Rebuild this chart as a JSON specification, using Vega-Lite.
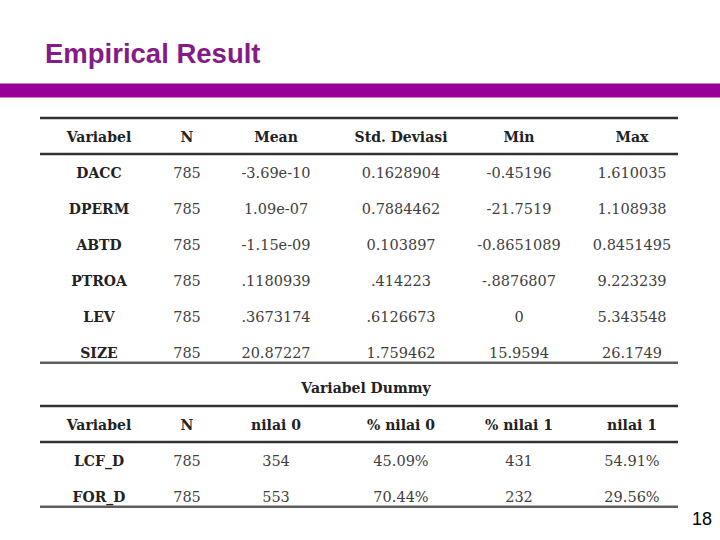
{
  "$schema": "https://vega.github.io/schema/vega-lite/v6.json",
  "width": 720,
  "height": 540,
  "padding": 0,
  "autosize": {"type": "none"},
  "background": "white",
  "config": {"view": {"stroke": null}, "axis": {"disable": true}},
  "data": {"values": [
    {"k": "title", "r": "title", "c": 0, "t": "Empirical Result"},
    {"k": "bar", "r": "bar", "c": 0, "t": ""},
    {"k": "rule", "r": "bar", "c": 0, "t": ""},
    {"k": "rule", "r": "hdr1", "c": 0, "t": ""},
    {"k": "close", "r": "SIZE", "c": 0, "t": ""},
    {"k": "rule", "r": "dummy", "c": 0, "t": ""},
    {"k": "rule", "r": "hdr2", "c": 0, "t": ""},
    {"k": "close", "r": "FOR_D", "c": 0, "t": ""},

    {"k": "hdr", "r": "hdr1", "c": 1, "t": "Variabel"},
    {"k": "hdr", "r": "hdr1", "c": 2, "t": "N"},
    {"k": "hdr", "r": "hdr1", "c": 3, "t": "Mean"},
    {"k": "hdr", "r": "hdr1", "c": 4, "t": "Std. Deviasi"},
    {"k": "hdr", "r": "hdr1", "c": 5, "t": "Min"},
    {"k": "hdr", "r": "hdr1", "c": 6, "t": "Max"},

    {"k": "lbl", "r": "DACC", "c": 1, "t": "DACC"},
    {"k": "val", "r": "DACC", "c": 2, "t": "785"},
    {"k": "val", "r": "DACC", "c": 3, "t": "-3.69e-10"},
    {"k": "val", "r": "DACC", "c": 4, "t": "0.1628904"},
    {"k": "val", "r": "DACC", "c": 5, "t": "-0.45196"},
    {"k": "val", "r": "DACC", "c": 6, "t": "1.610035"},

    {"k": "lbl", "r": "DPERM", "c": 1, "t": "DPERM"},
    {"k": "val", "r": "DPERM", "c": 2, "t": "785"},
    {"k": "val", "r": "DPERM", "c": 3, "t": "1.09e-07"},
    {"k": "val", "r": "DPERM", "c": 4, "t": "0.7884462"},
    {"k": "val", "r": "DPERM", "c": 5, "t": "-21.7519"},
    {"k": "val", "r": "DPERM", "c": 6, "t": "1.108938"},

    {"k": "lbl", "r": "ABTD", "c": 1, "t": "ABTD"},
    {"k": "val", "r": "ABTD", "c": 2, "t": "785"},
    {"k": "val", "r": "ABTD", "c": 3, "t": "-1.15e-09"},
    {"k": "val", "r": "ABTD", "c": 4, "t": "0.103897"},
    {"k": "val", "r": "ABTD", "c": 5, "t": "-0.8651089"},
    {"k": "val", "r": "ABTD", "c": 6, "t": "0.8451495"},

    {"k": "lbl", "r": "PTROA", "c": 1, "t": "PTROA"},
    {"k": "val", "r": "PTROA", "c": 2, "t": "785"},
    {"k": "val", "r": "PTROA", "c": 3, "t": ".1180939"},
    {"k": "val", "r": "PTROA", "c": 4, "t": ".414223"},
    {"k": "val", "r": "PTROA", "c": 5, "t": "-.8876807"},
    {"k": "val", "r": "PTROA", "c": 6, "t": "9.223239"},

    {"k": "lbl", "r": "LEV", "c": 1, "t": "LEV"},
    {"k": "val", "r": "LEV", "c": 2, "t": "785"},
    {"k": "val", "r": "LEV", "c": 3, "t": ".3673174"},
    {"k": "val", "r": "LEV", "c": 4, "t": ".6126673"},
    {"k": "val", "r": "LEV", "c": 5, "t": "0"},
    {"k": "val", "r": "LEV", "c": 6, "t": "5.343548"},

    {"k": "lbl", "r": "SIZE", "c": 1, "t": "SIZE"},
    {"k": "val", "r": "SIZE", "c": 2, "t": "785"},
    {"k": "val", "r": "SIZE", "c": 3, "t": "20.87227"},
    {"k": "val", "r": "SIZE", "c": 4, "t": "1.759462"},
    {"k": "val", "r": "SIZE", "c": 5, "t": "15.9594"},
    {"k": "val", "r": "SIZE", "c": 6, "t": "26.1749"},

    {"k": "sec", "r": "dummy", "c": 0, "t": "Variabel Dummy"},

    {"k": "hdr", "r": "hdr2", "c": 1, "t": "Variabel"},
    {"k": "hdr", "r": "hdr2", "c": 2, "t": "N"},
    {"k": "hdr", "r": "hdr2", "c": 3, "t": "nilai 0"},
    {"k": "hdr", "r": "hdr2", "c": 4, "t": "% nilai 0"},
    {"k": "hdr", "r": "hdr2", "c": 5, "t": "% nilai 1"},
    {"k": "hdr", "r": "hdr2", "c": 6, "t": "nilai 1"},

    {"k": "lbl", "r": "LCF_D", "c": 1, "t": "LCF_D"},
    {"k": "val", "r": "LCF_D", "c": 2, "t": "785"},
    {"k": "val", "r": "LCF_D", "c": 3, "t": "354"},
    {"k": "val", "r": "LCF_D", "c": 4, "t": "45.09%"},
    {"k": "val", "r": "LCF_D", "c": 5, "t": "431"},
    {"k": "val", "r": "LCF_D", "c": 6, "t": "54.91%"},

    {"k": "lbl", "r": "FOR_D", "c": 1, "t": "FOR_D"},
    {"k": "val", "r": "FOR_D", "c": 2, "t": "785"},
    {"k": "val", "r": "FOR_D", "c": 3, "t": "553"},
    {"k": "val", "r": "FOR_D", "c": 4, "t": "70.44%"},
    {"k": "val", "r": "FOR_D", "c": 5, "t": "232"},
    {"k": "val", "r": "FOR_D", "c": 6, "t": "29.56%"},

    {"k": "page", "r": "footer", "c": 8, "t": "18"}
  ]},
  "layer": [
    {
      "transform": [{"filter": "datum.k === 'title'"}],
      "mark": {"type": "text", "font": "Liberation Sans", "fontWeight": "bold", "fontSize": 27.5, "color": "#861A86", "align": "left", "baseline": "alphabetic", "dx": 5, "dy": -1},
      "encoding": {
        "x": {"field": "c", "type": "quantitative", "scale": {"type": "linear", "domain": [0, 1, 2, 3, 4, 5, 6, 7, 8], "range": [40, 99, 187, 276, 401, 519, 632, 678, 712], "nice": false, "zero": false}},
        "y": {"field": "r", "type": "nominal", "scale": {"type": "band", "domain": ["title", "bar", "hdr1", "DACC", "DPERM", "ABTD", "PTROA", "LEV", "SIZE", "dummy", "hdr2", "LCF_D", "FOR_D", "footer"], "range": [46, 550], "paddingInner": 0, "paddingOuter": 0}},
        "text": {"field": "t"}
      }
    },
    {
      "transform": [{"filter": "datum.k === 'bar'"}],
      "mark": {"type": "rule", "color": "#990099", "strokeWidth": 14},
      "encoding": {
        "y": {"field": "r", "type": "nominal", "bandPosition": 0.236}
      }
    },
    {
      "transform": [{"filter": "datum.k === 'rule'"}],
      "mark": {"type": "rule", "color": "#333333", "strokeWidth": 2.5},
      "encoding": {
        "y": {"field": "r", "type": "nominal", "bandPosition": 1},
        "x": {"datum": 0},
        "x2": {"datum": 7}
      }
    },
    {
      "transform": [{"filter": "datum.k === 'close'"}],
      "mark": {"type": "rule", "color": "#5e5e5e", "strokeWidth": 2.5},
      "encoding": {
        "y": {"field": "r", "type": "nominal", "bandPosition": 0.8},
        "x": {"datum": 0},
        "x2": {"datum": 7}
      }
    },
    {
      "transform": [{"filter": "datum.k === 'hdr' || datum.k === 'lbl'"}],
      "mark": {"type": "text", "font": "DejaVu Serif", "fontWeight": "bold", "fontSize": 14, "color": "#222222", "align": "center", "baseline": "middle", "dy": 2},
      "encoding": {
        "x": {"field": "c", "type": "quantitative"},
        "y": {"field": "r", "type": "nominal"},
        "text": {"field": "t"}
      }
    },
    {
      "transform": [{"filter": "datum.k === 'val'"}],
      "mark": {"type": "text", "font": "DejaVu Serif", "fontSize": 14.5, "color": "#404040", "align": "center", "baseline": "middle", "dy": 2},
      "encoding": {
        "x": {"field": "c", "type": "quantitative"},
        "y": {"field": "r", "type": "nominal"},
        "text": {"field": "t"}
      }
    },
    {
      "transform": [{"filter": "datum.k === 'sec'"}],
      "mark": {"type": "text", "font": "DejaVu Serif", "fontWeight": "bold", "fontSize": 14, "color": "#222222", "align": "center", "baseline": "middle", "dy": 1},
      "encoding": {
        "x": {"datum": 3.72},
        "y": {"field": "r", "type": "nominal"},
        "text": {"field": "t"}
      }
    },
    {
      "transform": [{"filter": "datum.k === 'page'"}],
      "mark": {"type": "text", "font": "Liberation Sans", "fontSize": 18, "color": "#000000", "align": "right", "baseline": "alphabetic"},
      "encoding": {
        "x": {"field": "c", "type": "quantitative"},
        "y": {"field": "r", "type": "nominal", "bandPosition": 0.31},
        "text": {"field": "t"}
      }
    }
  ]
}
